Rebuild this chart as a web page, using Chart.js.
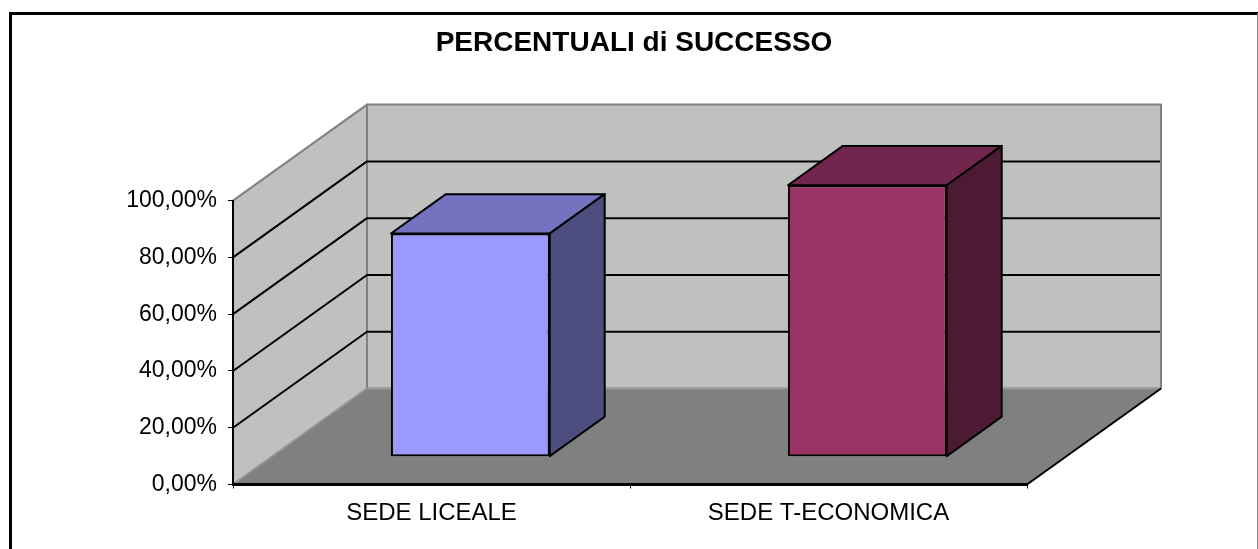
<!DOCTYPE html>
<html>
<head>
<meta charset="utf-8">
<title>Percentuali di successo</title>
<script src="https://cdn.jsdelivr.net/npm/chart.js@4/dist/chart.umd.min.js"></script>
<style>
  html, body { margin: 0; padding: 0; background: #ffffff; }
  canvas { display: block; }
</style>
</head>
<body>
<canvas id="successChart" width="1258" height="549"></canvas>
<script>
/* global Chart */

const categories = ['SEDE LICEALE', 'SEDE T-ECONOMICA']
const successRates = [0.786, 0.956]
const yTicks = [0, 0.2, 0.4, 0.6, 0.8, 1]

const frontColors = ['#9999ff', '#993366']
const topColors = ['#7373bf', '#73264d']
const sideColors = ['#4d4d80', '#4d1a33']

// depth of the fake 3d box, and where the bars sit inside it
const DEPTH_X = 134
const DEPTH_Y = 96
const BAR_FRONT = 0.29
const BAR_BACK = 0.70

const FONT = '"Liberation Sans", Arial, sans-serif'

function percentLabel (v) {
  return (v * 100).toFixed(2).replace('.', ',') + '%'
}

function poly (ctx, pts) {
  ctx.beginPath()
  ctx.moveTo(pts[0][0], pts[0][1])
  for (let i = 1; i < pts.length; i++) ctx.lineTo(pts[i][0], pts[i][1])
  ctx.closePath()
}

const box3d = {
  id: 'box3d',
  beforeDraw (chart) {
    const { ctx, scales: { x, y } } = chart
    const x0 = x.left
    const x1 = x.right
    const yb = y.getPixelForValue(0)
    const yt = y.getPixelForValue(1)

    ctx.save()
    // outer frame
    ctx.strokeStyle = '#000'
    ctx.lineWidth = 3
    ctx.beginPath()
    ctx.moveTo(10.5, chart.height)
    ctx.lineTo(10.5, 13.5)
    ctx.lineTo(chart.width, 13.5)
    ctx.stroke()
    ctx.strokeStyle = '#808080'
    ctx.lineWidth = 1
    ctx.beginPath()
    ctx.moveTo(chart.width - 0.5, 13)
    ctx.lineTo(chart.width - 0.5, chart.height)
    ctx.stroke()

    // walls
    ctx.lineJoin = 'round'
    ctx.fillStyle = '#c0c0c0'
    ctx.strokeStyle = '#808080'
    ctx.lineWidth = 2
    poly(ctx, [[x0, yb], [x0 + DEPTH_X, yb - DEPTH_Y], [x0 + DEPTH_X, yt - DEPTH_Y], [x0, yt]])
    ctx.fill()
    ctx.stroke()
    poly(ctx, [[x0 + DEPTH_X, yt - DEPTH_Y], [x1 + DEPTH_X, yt - DEPTH_Y], [x1 + DEPTH_X, yb - DEPTH_Y], [x0 + DEPTH_X, yb - DEPTH_Y]])
    ctx.fill()
    ctx.stroke()

    // floor
    ctx.fillStyle = '#808080'
    poly(ctx, [[x0, yb], [x1, yb], [x1 + DEPTH_X, yb - DEPTH_Y], [x0 + DEPTH_X, yb - DEPTH_Y]])
    ctx.fill()
    ctx.strokeStyle = '#9a9a9a'
    ctx.lineWidth = 1.5
    ctx.beginPath()
    ctx.moveTo(x0, yb)
    ctx.lineTo(x0 + DEPTH_X, yb - DEPTH_Y)
    ctx.lineTo(x1 + DEPTH_X, yb - DEPTH_Y)
    ctx.stroke()
    ctx.strokeStyle = '#000'
    ctx.lineWidth = 2
    ctx.beginPath()
    ctx.moveTo(x1, yb)
    ctx.lineTo(x1 + DEPTH_X, yb - DEPTH_Y)
    ctx.stroke()

    // gridlines on side and back wall
    ctx.strokeStyle = '#000'
    ctx.lineWidth = 2
    yTicks.slice(1, -1).forEach(function (v) {
      const py = y.getPixelForValue(v)
      ctx.beginPath()
      ctx.moveTo(x0, py)
      ctx.lineTo(x0 + DEPTH_X, py - DEPTH_Y)
      ctx.lineTo(x1 + DEPTH_X - 1, py - DEPTH_Y)
      ctx.stroke()
    })
    ctx.restore()
  },
  beforeDatasetsDraw (chart) {
    chart.ctx.save()
    chart.ctx.translate(BAR_FRONT * DEPTH_X, -BAR_FRONT * DEPTH_Y)
  },
  afterDatasetsDraw (chart) {
    const ctx = chart.ctx
    ctx.restore()
    const fx = BAR_FRONT * DEPTH_X
    const fy = BAR_FRONT * DEPTH_Y
    const bx = BAR_BACK * DEPTH_X
    const by = BAR_BACK * DEPTH_Y
    ctx.save()
    ctx.lineJoin = 'round'
    ctx.strokeStyle = '#000'
    ctx.lineWidth = 2
    chart.getDatasetMeta(0).data.forEach(function (bar, i) {
      const p = bar.getProps(['x', 'y', 'base', 'width'], true)
      const l = p.x - p.width / 2
      const r = p.x + p.width / 2
      // top face
      ctx.fillStyle = topColors[i]
      poly(ctx, [[l + fx, p.y - fy], [r + fx, p.y - fy], [r + bx, p.y - by], [l + bx, p.y - by]])
      ctx.fill()
      ctx.stroke()
      // side face
      ctx.fillStyle = sideColors[i]
      poly(ctx, [[r + fx, p.y - fy], [r + bx, p.y - by], [r + bx, p.base - by], [r + fx, p.base - fy]])
      ctx.fill()
      ctx.stroke()
    })
    ctx.restore()
  }
}

window.addEventListener('load', function () {
  const ctx = document.getElementById('successChart').getContext('2d')
  // eslint-disable-next-line no-unused-vars
  const successChart = new Chart(ctx, {
    type: 'bar',
    plugins: [box3d],
    data: {
      labels: categories,
      datasets: [
        {
          data: successRates,
          backgroundColor: frontColors,
          borderColor: '#000',
          borderWidth: 2,
          borderSkipped: false,
          categoryPercentage: 0.8,
          barPercentage: 0.5,
          clip: false
        }
      ]
    },
    options: {
      responsive: false,
      animation: false,
      events: [],
      layout: { padding: { left: 10, right: 0, top: 0, bottom: 0 } },
      plugins: {
        legend: { display: false },
        tooltip: { enabled: false },
        title: {
          display: true,
          text: 'PERCENTUALI di SUCCESSO',
          color: '#000',
          font: { family: FONT, size: 28, weight: 'bold' },
          padding: { top: 26, bottom: 141 }
        }
      },
      scales: {
        x: {
          offset: true,
          afterFit: function (scale) { scale.height = 64.5 },
          grid: { offset: true, drawOnChartArea: false, drawTicks: true, tickLength: 4, color: '#000', lineWidth: 1 },
          border: { color: '#000', width: 3 },
          ticks: { color: '#000', padding: 10, font: { family: FONT, size: 24 } }
        },
        y: {
          min: 0,
          max: 1,
          afterFit: function (scale) { scale.width = 223 },
          afterBuildTicks: function (scale) {
            scale.ticks = yTicks.map(function (v) { return { value: v } })
          },
          grid: { drawOnChartArea: false, drawTicks: true, tickLength: 5, color: '#000', lineWidth: 1 },
          border: { color: '#000', width: 2 },
          ticks: {
            color: '#000',
            padding: 11,
            font: { family: FONT, size: 23 },
            callback: function (v) { return percentLabel(v) }
          }
        },
        // empty right-hand axis: keeps room for the depth of the box
        depth: {
          type: 'linear',
          position: 'right',
          afterFit: function (scale) { scale.width = 231 },
          grid: { display: false },
          border: { display: false },
          ticks: { display: false }
        }
      }
    }
  })
})
</script>
</body>
</html>
